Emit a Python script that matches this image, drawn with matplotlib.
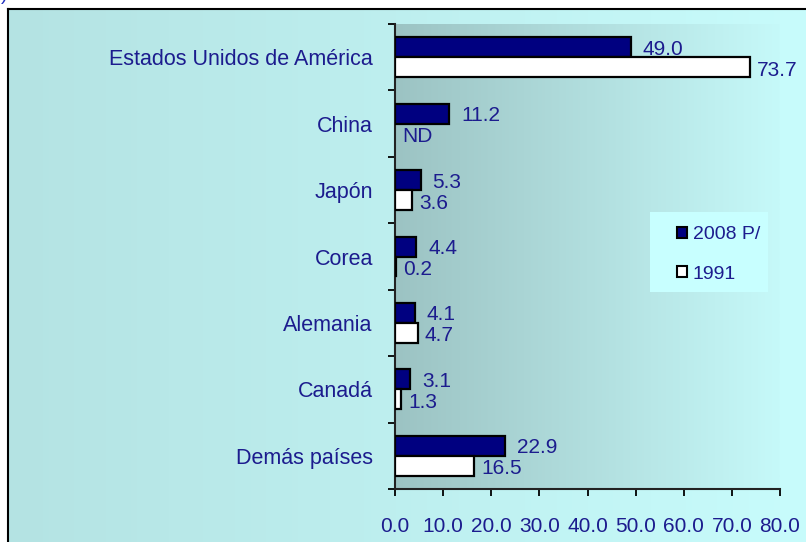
import numpy as np
import matplotlib
matplotlib.use('Agg')
import matplotlib.pyplot as plt
from matplotlib.patches import Patch, Rectangle

plt.rcParams['font.family'] = ['Liberation Sans', 'DejaVu Sans']

paises = ['Estados Unidos de América', 'China', 'Japón', 'Corea',
          'Alemania', 'Canadá', 'Demás países']
v2008 = [49.0, 11.2, 5.3, 4.4, 4.1, 3.1, 22.9]
v1991 = [73.7, np.nan, 3.6, 0.2, 4.7, 1.3, 16.5]
etiq_1991 = ['73.7', 'ND', '3.6', '0.2', '4.7', '1.3', '16.5']
xticks = [0, 10, 20, 30, 40, 50, 60, 70, 80]

azul = '#1c1c8e'
marino = '#000080'
px = 72 / 100  # puntos por pixel

fig = plt.figure(figsize=(8.06, 5.42), dpi=100)

# fondo general con degradado y marco
bg = fig.add_axes([8/806, 0, 1, 1 - 9/542])
grad = np.linspace(0, 1, 256).reshape(1, -1)
cmap_bg = matplotlib.colors.LinearSegmentedColormap.from_list('bg', ['#b4e3e3', '#c8fcfc'])
bg.imshow(grad, aspect='auto', cmap=cmap_bg, extent=[0, 1, 0, 1])
bg.set_xticks([]); bg.set_yticks([])
for s in ['right', 'bottom']:
    bg.spines[s].set_visible(False)
for s in ['left', 'top']:
    bg.spines[s].set_linewidth(1.5)
    bg.spines[s].set_color('black')
fig.text(0.001, 1.008, ')', color='#2030c0', fontsize=14, va='center', ha='left')

ax = fig.add_axes([395/806, 1 - 489/542, 385/806, 465/542])
ax.set_facecolor('none')
n = len(paises)
cmap_pa = matplotlib.colors.LinearSegmentedColormap.from_list('pa', ['#9cc3c3', '#c6f9f9'])
ax.imshow(grad, aspect='auto', cmap=cmap_pa, extent=[0, 80, n - 0.5, -0.5], zorder=0)

y = np.arange(n)
h = 0.3
ax.barh(y - h/2, v2008, height=h, color=marino, edgecolor='black', linewidth=1.6, zorder=3)
ax.barh(y + h/2, v1991, height=h, color='white', edgecolor='black', linewidth=1.6, zorder=3)

for i in range(n):
    ax.annotate(f'{v2008[i]:.1f}', (v2008[i], y[i] - h/2), xytext=(12 * px, -2 * px),
                textcoords='offset points', va='center', ha='left', color=azul, fontsize=15)
    x1 = 0 if np.isnan(v1991[i]) else v1991[i]
    ax.annotate(etiq_1991[i], (x1, y[i] + h/2), xytext=(7 * px, -3 * px),
                textcoords='offset points', va='center', ha='left', color=azul, fontsize=15)

ax.set_xlim(0, 80)
ax.set_ylim(n - 0.5, -0.5)
ax.set_xticks(xticks)
ax.set_xticklabels([f'{v:.1f}' for v in xticks], color=azul, fontsize=15)
ax.set_yticks(y)
ax.set_yticklabels(paises, color=azul, fontsize=15.5)
ax.set_yticks(np.arange(-0.5, n), minor=True)
ax.tick_params(axis='y', which='major', length=0, pad=16)
ax.tick_params(axis='y', which='minor', length=5, width=1.3, direction='out')
ax.tick_params(axis='x', length=5, width=1.3, direction='out', pad=15)
for s in ['top', 'right']:
    ax.spines[s].set_visible(False)
for s in ['left', 'bottom']:
    ax.spines[s].set_linewidth(1.5)
    ax.spines[s].set_color('#222222')

# caja de la leyenda
fig.patches.append(Rectangle((650/806, 1 - 292/542), 118/806, 80/542,
                             transform=fig.transFigure, facecolor='#c8ffff',
                             edgecolor='none', zorder=5))
handles = [Patch(facecolor=marino, edgecolor='black', linewidth=1.5),
           Patch(facecolor='white', edgecolor='black', linewidth=1.5)]
leg = fig.legend(handles, ['2008 P/', '1991'], loc='upper left',
                 bbox_to_anchor=(677/806, 1 - 226/542), frameon=False,
                 handlelength=0.5, handleheight=0.5, handletextpad=0.3,
                 labelspacing=1.17, borderpad=0, fontsize=14, borderaxespad=0)
leg.set_zorder(6)
for t in leg.get_texts():
    t.set_color(azul)

fig.savefig('out.png', dpi=100)
